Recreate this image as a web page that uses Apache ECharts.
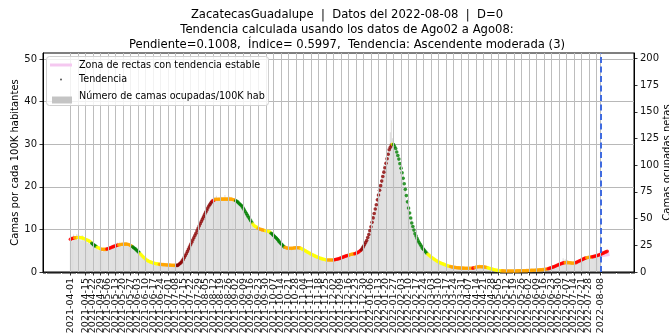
<!DOCTYPE html>
<html>
<head>
<meta charset="utf-8">
<script src="https://cdn.jsdelivr.net/npm/echarts@6/dist/echarts.min.js"></script>
<style>
html, body { margin: 0; padding: 0; background: #ffffff; }
#chart { width: 669px; height: 335px; }
</style>
</head>
<body>
<div id="chart"></div>
<script>
// Serie diaria de ZacatecasGuadalupe, desde 2021-04-01 (día 0)
const startDate = '2021-04-01';
const reportDate = '2022-08-08';

// Etiquetas semanales del eje X (más la fecha del reporte)
const tickLabels = [
  '2021-04-01','2021-04-08','2021-04-15','2021-04-22','2021-04-29',
  '2021-05-06','2021-05-13','2021-05-20','2021-05-27',
  '2021-06-03','2021-06-10','2021-06-17','2021-06-24',
  '2021-07-01','2021-07-08','2021-07-15','2021-07-22','2021-07-29',
  '2021-08-05','2021-08-12','2021-08-19','2021-08-26',
  '2021-09-02','2021-09-09','2021-09-16','2021-09-23','2021-09-30',
  '2021-10-07','2021-10-14','2021-10-21','2021-10-28',
  '2021-11-04','2021-11-11','2021-11-18','2021-11-25',
  '2021-12-02','2021-12-09','2021-12-16','2021-12-23','2021-12-30',
  '2022-01-06','2022-01-13','2022-01-20','2022-01-27',
  '2022-02-03','2022-02-10','2022-02-17','2022-02-24',
  '2022-03-03','2022-03-10','2022-03-17','2022-03-24','2022-03-31',
  '2022-04-07','2022-04-14','2022-04-21','2022-04-28',
  '2022-05-05','2022-05-12','2022-05-19','2022-05-26',
  '2022-06-02','2022-06-09','2022-06-16','2022-06-23','2022-06-30',
  '2022-07-07','2022-07-14','2022-07-21','2022-07-28',
  '2022-08-04','2022-08-08'
];

const leftTicks = [0, 10, 20, 30, 40, 50];
const rightTicks = [0, 25, 50, 75, 100, 125, 150, 175, 200];

// Número de camas ocupadas por cada 100K habitantes (un valor por día)
const bedsPer100k = [
  7.9,8.4,7.2,8.8,7.6,8.3,8.9,
  7.5,8.6,8.2,7.4,8.7,7.8,7.3,
  8.1,7.2,6.9,7.8,6.6,7.3,6.2,
  6.9,5.8,6.4,5.5,6.2,5.1,5.9,
  5.0,5.7,4.8,5.6,5.2,4.9,5.8,
  5.3,6.1,5.4,6.3,5.7,6.6,5.8,
  6.5,6.0,6.9,6.2,7.1,6.3,6.8,
  6.2,7.0,6.4,6.9,6.1,6.7,5.9,
  6.4,5.6,6.0,5.2,5.7,4.9,5.3,
  4.5,4.9,4.0,4.4,3.6,3.9,3.1,
  3.4,2.6,3.0,2.3,2.7,2.1,2.5,
  1.9,2.3,1.8,2.2,1.7,2.1,1.6,
  2.0,1.5,1.9,1.6,1.8,1.4,1.9,
  1.5,1.7,1.4,1.8,1.5,1.6,1.4,
  1.7,1.5,1.6,2.0,1.8,2.5,2.3,
  3.2,3.0,4.1,4.0,5.2,5.0,6.3,
  6.0,7.4,7.1,8.5,8.0,9.6,9.0,
  10.7,10.1,11.8,11.2,13.0,12.4,14.2,
  18.3,14.3,15.6,15.1,16.4,16.0,17.2,
  16.5,17.6,16.8,17.9,16.9,17.5,17.0,
  17.8,16.9,17.4,17.0,18.1,16.8,17.3,
  17.1,17.7,16.9,17.4,16.6,17.2,16.4,
  16.9,16.2,16.7,15.8,16.2,15.3,15.7,
  14.6,15.1,13.7,14.2,12.9,13.3,12.1,
  12.4,11.2,11.6,10.5,11.0,10.2,10.7,
  9.9,10.4,9.7,10.3,9.5,10.0,9.4,
  9.9,9.3,9.8,9.2,9.5,8.6,9.1,
  8.2,8.7,7.8,8.3,7.2,7.7,6.6,
  7.0,6.1,6.5,5.6,6.0,5.4,5.9,
  5.3,5.8,5.2,5.9,5.4,6.0,5.5,
  6.1,5.5,6.0,5.4,5.8,5.2,5.5,
  4.9,5.3,4.6,5.0,4.3,4.8,4.1,
  4.5,3.9,4.2,3.6,4.0,3.4,3.7,
  3.2,3.6,3.0,3.4,2.8,3.2,2.7,
  3.1,2.6,3.0,2.6,3.1,2.5,3.0,
  2.6,3.2,2.7,3.3,2.8,3.4,3.0,
  3.6,3.1,3.8,3.3,4.0,3.5,4.1,
  3.7,4.3,3.8,4.4,4.0,4.6,4.1,
  4.8,4.2,5.0,4.6,5.4,5.1,6.4,
  5.8,7.2,6.6,8.3,7.6,9.6,9.0,
  11.4,10.8,13.6,13.0,15.8,15.1,18.2,
  17.5,20.6,19.8,22.9,22.0,25.1,24.2,
  27.0,26.1,29.2,28.3,32.8,35.6,31.4,
  30.6,29.3,28.1,29.0,26.9,27.8,24.6,
  25.3,22.1,23.0,19.5,20.1,16.8,17.3,
  14.2,14.9,12.1,12.6,10.2,10.9,8.6,
  9.1,7.4,7.9,6.4,6.9,5.6,6.0,
  5.0,5.4,4.4,4.8,3.9,4.3,3.4,
  3.8,3.0,3.4,2.7,3.1,2.4,2.7,
  2.1,2.5,1.9,2.2,1.7,2.0,1.5,
  1.8,1.3,1.6,1.2,1.4,1.1,1.3,
  1.0,1.2,0.9,1.1,0.8,1.1,0.8,
  1.0,0.8,1.0,0.7,1.0,0.7,0.9,
  0.8,1.0,0.8,1.1,0.8,1.2,1.0,
  1.3,1.1,1.4,1.1,1.4,1.1,1.3,
  1.1,1.3,1.0,1.1,0.9,1.0,0.7,
  0.8,0.6,0.7,0.5,0.6,0.4,0.5,
  0.3,0.4,0.3,0.3,0.2,0.3,0.2,
  0.3,0.2,0.3,0.2,0.3,0.2,0.3,
  0.2,0.3,0.3,0.2,0.3,0.3,0.3,
  0.3,0.4,0.3,0.3,0.4,0.3,0.4,
  0.4,0.3,0.4,0.5,0.4,0.5,0.4,
  0.5,0.4,0.5,0.6,0.5,0.6,0.5,
  0.7,0.6,0.7,0.8,0.7,0.9,1.0,
  1.1,1.0,1.3,1.2,1.5,1.4,1.8,
  1.7,2.1,2.0,2.4,3.2,2.6,3.0,
  2.4,2.8,2.1,2.5,2.0,2.4,1.9,
  2.3,2.2,2.6,2.4,2.9,2.6,3.1,
  2.8,3.3,3.0,3.5,3.2,3.6,3.3,
  3.7,3.4,3.8,3.5,3.9,3.6,4.0,
  3.7,4.1,3.9,4.3,4.0
];

// Curva de tendencia suavizada (un punto por día, llega hasta el día 500)
const trendValues = [
  7.7,7.78,7.86,7.95,8.0,8.05,8.1,8.1,8.1,8.08,8.05,
  8.0,7.92,7.82,7.7,7.58,7.45,7.32,7.2,6.98,6.75,
  6.52,6.3,6.13,5.97,5.8,5.68,5.57,5.46,5.35,5.33,
  5.31,5.3,5.3,5.38,5.46,5.55,5.65,5.75,5.85,5.95,
  6.04,6.13,6.22,6.3,6.35,6.4,6.45,6.5,6.52,6.53,
  6.54,6.55,6.5,6.45,6.4,6.23,6.07,5.9,5.7,5.5,
  5.3,5.05,4.8,4.55,4.3,4.03,3.77,3.5,3.27,3.03,
  2.8,2.67,2.53,2.4,2.31,2.22,2.14,2.05,2.0,1.95,
  1.9,1.85,1.8,1.78,1.76,1.74,1.72,1.7,1.68,1.65,
  1.64,1.62,1.61,1.59,1.58,1.56,1.56,1.55,1.55,1.55,
  1.75,1.98,2.2,2.55,2.9,3.37,3.83,4.3,4.83,5.37,
  5.9,6.43,6.97,7.5,8.03,8.57,9.1,9.67,10.23,10.8,
  11.33,11.87,12.4,12.93,13.47,14.0,14.5,15.0,15.5,15.87,
  16.23,16.6,16.75,16.9,17.05,17.06,17.07,17.08,17.09,17.1,
  17.1,17.1,17.1,17.1,17.1,17.1,17.1,17.1,17.1,17.1,
  17.03,16.97,16.9,16.73,16.57,16.4,16.15,15.9,15.65,15.4,
  14.98,14.55,14.13,13.7,13.28,12.85,12.43,12.0,11.63,11.27,
  10.9,10.74,10.58,10.42,10.26,10.1,10.03,9.95,9.88,9.8,
  9.74,9.68,9.62,9.56,9.5,9.3,9.1,8.9,8.65,8.4,
  8.15,7.9,7.6,7.3,7.0,6.7,6.43,6.17,5.9,5.8,
  5.7,5.6,5.59,5.58,5.56,5.55,5.59,5.63,5.66,5.7,
  5.7,5.7,5.7,5.6,5.5,5.4,5.25,5.1,4.95,4.8,
  4.66,4.52,4.38,4.24,4.1,3.98,3.85,3.72,3.6,3.5,
  3.4,3.3,3.2,3.13,3.06,2.99,2.92,2.85,2.84,2.83,
  2.83,2.82,2.81,2.81,2.8,2.86,2.92,2.98,3.04,3.1,
  3.2,3.3,3.4,3.5,3.6,3.7,3.78,3.86,3.94,4.02,
  4.1,4.15,4.2,4.25,4.3,4.4,4.5,4.6,4.8,5.0,
  5.2,5.6,6.0,6.47,6.93,7.4,8.1,8.8,9.7,10.6,
  11.65,12.7,13.73,14.77,15.8,16.93,18.07,19.2,20.27,21.33,
  22.4,23.43,24.47,25.5,26.57,27.63,28.7,29.25,29.8,30.0,
  29.9,29.45,29.0,28.17,27.33,26.5,25.43,24.37,23.3,22.0,
  20.7,19.4,17.93,16.47,15.0,13.83,12.67,11.5,10.67,9.83,
  9.0,8.43,7.87,7.3,6.88,6.45,6.03,5.6,5.3,5.0,
  4.7,4.4,4.18,3.95,3.73,3.5,3.33,3.15,2.98,2.8,
  2.65,2.5,2.35,2.2,2.1,2.0,1.9,1.8,1.7,1.6,
  1.5,1.4,1.34,1.28,1.21,1.15,1.11,1.08,1.04,1.0,
  0.98,0.96,0.94,0.92,0.9,0.9,0.89,0.89,0.88,0.88,
  0.88,0.88,0.89,0.89,0.9,0.98,1.07,1.15,1.18,1.22,
  1.25,1.24,1.23,1.21,1.2,1.15,1.1,1.05,0.97,0.88,
  0.8,0.73,0.67,0.6,0.54,0.48,0.42,0.38,0.34,0.3,
  0.29,0.27,0.26,0.24,0.23,0.23,0.23,0.23,0.24,0.24,
  0.24,0.24,0.24,0.25,0.25,0.26,0.26,0.27,0.28,0.28,
  0.29,0.3,0.3,0.31,0.32,0.33,0.35,0.36,0.37,0.39,
  0.4,0.41,0.42,0.44,0.45,0.47,0.49,0.51,0.53,0.55,
  0.59,0.63,0.66,0.7,0.78,0.85,0.93,1.0,1.1,1.2,
  1.3,1.4,1.51,1.63,1.74,1.85,1.94,2.03,2.11,2.2,
  2.2,2.2,2.2,2.2,2.16,2.13,2.09,2.05,2.1,2.15,
  2.2,2.33,2.45,2.58,2.7,2.83,2.95,3.08,3.2,3.26,
  3.33,3.39,3.45,3.49,3.53,3.56,3.6,3.67,3.73,3.8,
  3.89,3.98,4.06,4.15,4.27,4.38,4.5,4.62,4.73,4.85
];

// Clasificación de la tendencia: [día en que empieza, clase]
const trendClassRuns = [
  [0,'r'],[4,'o'],[7,'y'],[20,'g'],[25,'y'],[29,'o'],[34,'r'],[45,'o'],
  [58,'g'],[65,'y'],[83,'o'],[99,'dr'],[133,'r'],[135,'o'],[154,'g'],
  [170,'y'],[175,'o'],[182,'y'],[187,'g'],[200,'o'],[215,'y'],[240,'o'],
  [246,'r'],[260,'o'],[265,'r'],[271,'dr'],[300,'y'],[301,'g'],[333,'y'],
  [354,'o'],[375,'r'],[377,'o'],[389,'y'],[402,'o'],[445,'r'],[461,'o'],
  [471,'r'],[481,'o'],[486,'r']
];

// Zona de rectas con tendencia estable al final de la serie
const stableZoneDays = [493, 502];
const stableZoneValues = [4.1, 4.45];

const classColors = {
  dr: '#8b0000', r: '#ff0000', o: '#ffa500', y: '#ffff00', g: '#008000'
};

const DAY_MS = 86400000;
const dayOf = s => Math.round((Date.parse(s) - Date.parse(startDate)) / DAY_MS);
const tickDays = tickLabels.map(dayOf);
const labelByDay = {};
tickLabels.forEach((l, i) => { labelByDay[tickDays[i]] = l; });
const reportDay = dayOf(reportDate);

function classAt(day) {
  let c = trendClassRuns[0][1];
  for (const [start, cls] of trendClassRuns) { if (day >= start) c = cls; }
  return c;
}

const xMin = -25.5, xMax = 525;
const minorTickDays = [];
for (let d = Math.ceil(xMin); d <= xMax; d++) minorTickDays.push(d);

const barData = bedsPer100k.map((v, i) => [i, v]);
const trendData = trendValues.map((v, i) => ({
  value: [i, v],
  itemStyle: { color: classColors[classAt(i)] }
}));
const stableData = stableZoneDays.map((d, i) => [d, stableZoneValues[i]]);

const FONT = 'DejaVu Sans';
const chart = echarts.init(document.getElementById('chart'), null, { renderer: 'canvas' });

chart.setOption({
  animation: false,
  backgroundColor: '#ffffff',
  textStyle: { fontFamily: FONT },
  title: {
    text: 'ZacatecasGuadalupe  |  Datos del 2022-08-08  |  D=0\n' +
          'Tendencia calculada usando los datos de Ago02 a Ago08:\n' +
          'Pendiente=0.1008,  Índice= 0.5997,  Tendencia: Ascendente moderada (3)',
    left: 342,
    top: 2,
    textAlign: 'center',
    textStyle: { fontFamily: FONT, fontSize: 11.6, fontWeight: 'normal', color: '#000', lineHeight: 15 }
  },
  grid: {
    left: 43, top: 53, width: 591, height: 219,
    outerBoundsMode: 'none', containLabel: false,
    show: true, borderColor: '#000', borderWidth: 1, backgroundColor: 'transparent'
  },
  xAxis: [
    {
      type: 'value', min: xMin, max: xMax,
      axisLine: { show: true, onZero: false, lineStyle: { color: '#000', width: 1 } },
      axisTick: { show: true, customValues: tickDays, length: 3.5, lineStyle: { color: '#000', width: 0.8 } },
      axisLabel: {
        show: true, customValues: tickDays, rotate: 90, margin: 6,
        showMinLabel: true, showMaxLabel: true, hideOverlap: false,
        fontFamily: FONT, fontSize: 9.5, color: '#111',
        formatter: v => labelByDay[Math.round(v)] || ''
      },
      splitLine: { show: false }
    },
    {
      type: 'value', min: xMin, max: xMax, position: 'bottom',
      axisLine: { show: false, onZero: false },
      axisTick: { show: true, customValues: minorTickDays, length: 2, lineStyle: { color: '#333', width: 0.6 } },
      axisLabel: { show: false },
      splitLine: { show: false }
    }
  ],
  yAxis: [
    {
      type: 'value', min: 0, max: 51.4, position: 'left',
      name: 'Camas por cada 100K habitantes', nameLocation: 'middle', nameGap: 23,
      nameMoveOverlap: false,
      nameTextStyle: { fontFamily: FONT, fontSize: 10, color: '#000' },
      axisLine: { show: true, onZero: false, lineStyle: { color: '#000', width: 1 } },
      axisTick: { show: true, customValues: leftTicks, length: 3.5, lineStyle: { color: '#000', width: 0.8 } },
      axisLabel: { customValues: leftTicks, fontFamily: FONT, fontSize: 10, color: '#111', margin: 6 },
      splitLine: { show: true, lineStyle: { color: '#b8b8b8', width: 1 } }
    },
    {
      type: 'value', min: 0, max: 205, position: 'right',
      name: 'Camas ocupadas netas', nameLocation: 'middle', nameGap: 28, nameRotate: 90,
      nameMoveOverlap: false,
      nameTextStyle: { fontFamily: FONT, fontSize: 10, color: '#000' },
      axisLine: { show: true, onZero: false, lineStyle: { color: '#000', width: 1 } },
      axisTick: { show: true, customValues: rightTicks, length: 3.5, lineStyle: { color: '#000', width: 0.8 } },
      axisLabel: { customValues: rightTicks, fontFamily: FONT, fontSize: 10, color: '#111', margin: 6 },
      splitLine: { show: false }
    }
  ],
  series: [
    {
      // líneas verticales de la rejilla, una por etiqueta semanal
      name: 'rejilla',
      type: 'line', xAxisIndex: 0, yAxisIndex: 0, data: [],
      silent: true, z: 1,
      markLine: {
        silent: true, symbol: 'none', label: { show: false }, animation: false,
        lineStyle: { color: '#bdbdbd', width: 1, type: 'solid' },
        data: tickDays.map(d => ({ xAxis: d }))
      }
    },
    {
      name: 'Número de camas ocupadas/100K hab',
      type: 'bar', xAxisIndex: 0, yAxisIndex: 0,
      data: barData, barWidth: 0.8,
      itemStyle: { color: 'rgba(170,170,170,0.4)' },
      z: 2
    },
    {
      name: 'Zona de rectas con tendencia estable',
      type: 'line', xAxisIndex: 0, yAxisIndex: 0,
      data: stableData, showSymbol: false,
      lineStyle: { color: '#f3c6ee', width: 6, opacity: 0.9 },
      z: 3
    },
    {
      name: 'Tendencia',
      type: 'scatter', xAxisIndex: 0, yAxisIndex: 0,
      data: trendData, symbol: 'circle', symbolSize: 3.6,
      z: 4
    },
    {
      // fecha del reporte
      name: 'fecha',
      type: 'line', xAxisIndex: 0, yAxisIndex: 0, data: [],
      silent: true, z: 5,
      markLine: {
        silent: true, symbol: 'none', label: { show: false }, animation: false,
        lineStyle: { color: '#3f6be0', width: 2, type: [6, 3.5] },
        data: [{ xAxis: reportDay }]
      }
    }
  ],
  graphic: [
    { type: 'rect', z: 100, shape: { x: 46.5, y: 56.5, width: 222, height: 49, r: 3 },
      style: { fill: 'rgba(255,255,255,0.8)', stroke: '#d0d0d0', lineWidth: 1 } },
    { type: 'line', z: 101, shape: { x1: 50, y1: 65, x2: 72, y2: 65 },
      style: { stroke: '#f5c8f0', lineWidth: 3 } },
    { type: 'circle', z: 101, shape: { cx: 61, cy: 79.5, r: 1 }, style: { fill: '#555' } },
    { type: 'rect', z: 101, shape: { x: 52, y: 96.5, width: 20, height: 7 }, style: { fill: '#c4c4c4' } },
    { type: 'text', z: 101, x: 79, y: 65, style: { text: 'Zona de rectas con tendencia estable', fontFamily: FONT, fontSize: 9.6, fill: '#000', verticalAlign: 'middle' } },
    { type: 'text', z: 101, x: 79, y: 79.5, style: { text: 'Tendencia', fontFamily: FONT, fontSize: 9.6, fill: '#000', verticalAlign: 'middle' } },
    { type: 'text', z: 101, x: 79, y: 96.5, style: { text: 'Número de camas ocupadas/100K hab', fontFamily: FONT, fontSize: 9.6, fill: '#000', verticalAlign: 'middle' } }
  ]
});
</script>
</body>
</html>
